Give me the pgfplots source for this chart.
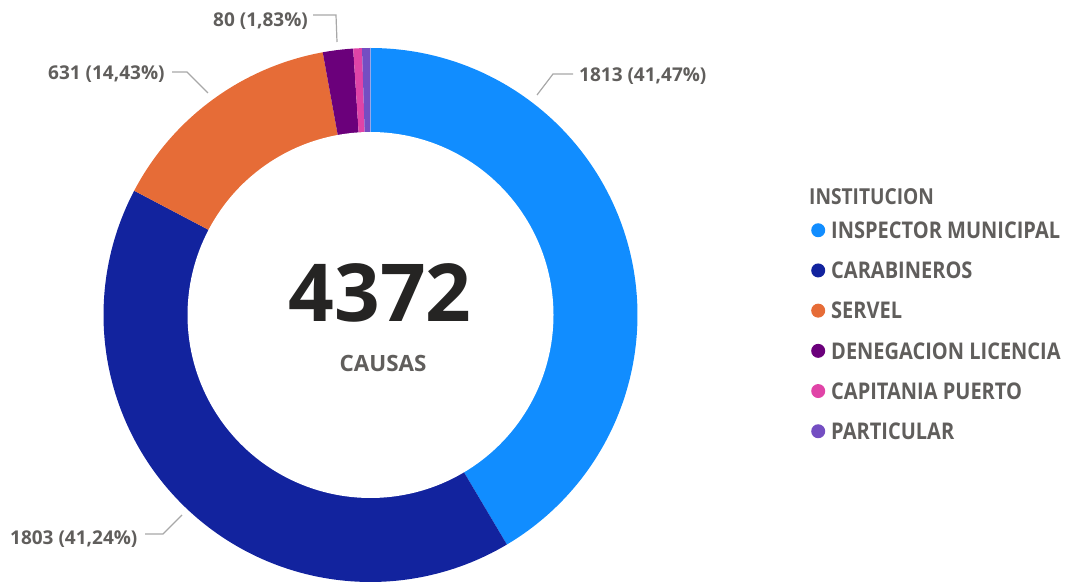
\documentclass[border=0pt]{standalone}
\usepackage{pgfplots}
\pgfplotsset{compat=1.18}
\usepackage{pgfplotstable}
\usepackage{fontspec}
\setmainfont{Open Sans}
\newfontfamily\cond[FakeStretch=0.87]{Open Sans}

\definecolor{inspector}{HTML}{118DFF}
\definecolor{carab}{HTML}{12239E}
\definecolor{servel}{HTML}{E66C37}
\definecolor{deneg}{HTML}{6B007B}
\definecolor{capit}{HTML}{E044A7}
\definecolor{partic}{HTML}{744EC2}
\definecolor{txt}{HTML}{605E5C}
\definecolor{big}{HTML}{252423}
\definecolor{leader}{HTML}{A8A8A8}

% causas por institucion
\pgfplotstableread{
inst causas
INSPECTOR 1813
CARABINEROS 1803
SERVEL 631
DENEGACION 80
CAPITANIA 23
PARTICULAR 22
}\causas

\begin{document}
\begin{tikzpicture}
\pgfplotstablegetelem{0}{causas}\of\causas \xdef\vA{\pgfplotsretval}
\pgfplotstablegetelem{1}{causas}\of\causas \xdef\vB{\pgfplotsretval}
\pgfplotstablegetelem{2}{causas}\of\causas \xdef\vC{\pgfplotsretval}
\pgfplotstablegetelem{3}{causas}\of\causas \xdef\vD{\pgfplotsretval}
\pgfplotstablegetelem{4}{causas}\of\causas \xdef\vE{\pgfplotsretval}
\pgfplotstablegetelem{5}{causas}\of\causas \xdef\vF{\pgfplotsretval}
\pgfmathsetmacro\tot{\vA+\vB+\vC+\vD+\vE+\vF}
% angles, clockwise from the top
\pgfmathsetmacro\aA{90}
\pgfmathsetmacro\aB{\aA-360*(\vA/\tot)}
\pgfmathsetmacro\aC{\aB-360*(\vB/\tot)}
\pgfmathsetmacro\aD{\aC-360*(\vC/\tot)}
\pgfmathsetmacro\aE{\aD-360*(\vD/\tot)}
\pgfmathsetmacro\aF{\aE-360*(\vE/\tot)}
\pgfmathsetmacro\aG{\aF-360*(\vF/\tot)}
\def\cx{370.5}
\def\cy{271}
\def\R{267}
\def\r{183}
\begin{axis}[
    scale only axis,
    width=1068bp, height=586bp,
    xmin=0, xmax=1068, ymin=0, ymax=586,
    hide axis, clip=false,
    samples=120, variable=\t,
    legend style={
        at={(axis cs:811,364.2)}, anchor=north west,
        draw=none, fill=none, inner sep=0pt,
        row sep=23.7bp,
        font=\cond\bfseries\fontsize{23bp}{23bp}\selectfont,
        text=txt,
        nodes={inner sep=0pt, text height=16.5bp, text depth=0pt},
        /tikz/every odd column/.style={column sep=6bp},
    },
    legend cell align=left,
    legend image code/.code={\fill[#1] (7bp,0bp) circle (7bp);},
]
\addplot[draw=none, forget plot] coordinates {(0,0) (1068,586)};

\addplot[fill=inspector, draw=none, domain=\aB:\aA] ({\cx+\R*cos(\t)},{\cy+\R*sin(\t)}) -- (axis cs:\cx,\cy) -- cycle;
\addlegendentry{INSPECTOR MUNICIPAL}
\addplot[fill=carab, draw=none, domain=\aC:\aB] ({\cx+\R*cos(\t)},{\cy+\R*sin(\t)}) -- (axis cs:\cx,\cy) -- cycle;
\addlegendentry{CARABINEROS}
\addplot[fill=servel, draw=none, domain=\aD:\aC] ({\cx+\R*cos(\t)},{\cy+\R*sin(\t)}) -- (axis cs:\cx,\cy) -- cycle;
\addlegendentry{SERVEL}
\addplot[fill=deneg, draw=none, domain=\aE:\aD, samples=20] ({\cx+\R*cos(\t)},{\cy+\R*sin(\t)}) -- (axis cs:\cx,\cy) -- cycle;
\addlegendentry{DENEGACION LICENCIA}
\addplot[fill=capit, draw=none, domain=\aF:\aE, samples=10] ({\cx+\R*cos(\t)},{\cy+\R*sin(\t)}) -- (axis cs:\cx,\cy) -- cycle;
\addlegendentry{CAPITANIA PUERTO}
\addplot[fill=partic, draw=none, domain=\aG:\aF, samples=10] ({\cx+\R*cos(\t)},{\cy+\R*sin(\t)}) -- (axis cs:\cx,\cy) -- cycle;
\addlegendentry{PARTICULAR}

% hole
\addplot[fill=white, draw=none, domain=0:360, samples=200, forget plot] ({\cx+\r*cos(\t)},{\cy+\r*sin(\t)}) -- cycle;

% leader lines
\addplot[leader, line width=1.2bp, forget plot] coordinates {(537,491) (553,512) (573,512)};
\addplot[leader, line width=1.2bp, forget plot] coordinates {(208,493) (187,514) (172,514)};
\addplot[leader, line width=1.2bp, forget plot] coordinates {(337,544) (336,571) (313,571)};
\addplot[leader, line width=1.2bp, forget plot] coordinates {(182,71) (163,52) (145,52)};

\begin{scope}[every node/.style={inner sep=0pt, text=txt, font=\bfseries\fontsize{19bp}{19bp}\selectfont}]
\node[anchor=base west] at (axis cs:579,504) {1813 (41,47\%)};
\node[anchor=base west] at (axis cs:48,506) {631 (14,43\%)};
\node[anchor=base west] at (axis cs:213,559) {80 (1,83\%)};
\node[anchor=base west] at (axis cs:10,41) {1803 (41,24\%)};
\end{scope}

\node[anchor=base west, inner sep=0pt, text=txt, font=\cond\bfseries\fontsize{22bp}{22bp}\selectfont] at (axis cs:809,381) {INSTITUCION};

\node[anchor=base, inner sep=0pt, text=big, font=\bfseries\fontsize{80bp}{80bp}\selectfont] at (axis cs:380,264) {4372};
\node[anchor=base, inner sep=0pt, text=txt, font=\bfseries\fontsize{22.4bp}{22.4bp}\selectfont] at (axis cs:383,214) {CAUSAS};
\end{axis}
\end{tikzpicture}
\end{document}
